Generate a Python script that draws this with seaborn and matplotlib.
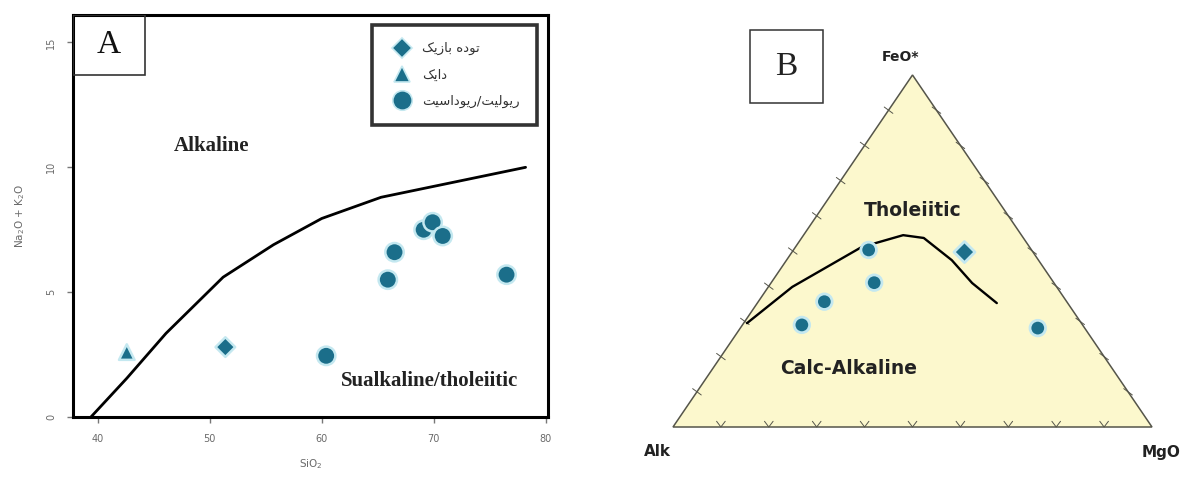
import numpy as np
import pandas as pd
import matplotlib
matplotlib.use("Agg")
import matplotlib.pyplot as plt
from matplotlib.lines import Line2D
from matplotlib.patches import Rectangle, Polygon
import seaborn as sns

# ---------------- data: panel A (TAS, Irvine & Baragar) ----------------
rock_basic = "توده بازیک"
rock_dike = "دایک"
rock_rhyo = "ریولیت/ریوداسیت"
legend_order = [rock_basic, rock_dike, rock_rhyo]

a_rock = [rock_dike, rock_basic, rock_rhyo, rock_rhyo, rock_rhyo, rock_rhyo, rock_rhyo, rock_rhyo, rock_rhyo]
a_sio2 = [42.6, 51.4, 60.4, 65.9, 66.5, 69.1, 69.9, 70.8, 76.5]
a_alk = [2.6, 2.8, 2.45, 5.5, 6.6, 7.5, 7.8, 7.25, 5.7]

div_sio2 = [39.4, 42.6, 46.1, 51.2, 55.7, 60.0, 65.3, 78.2]
div_alk = [0.0, 1.55, 3.35, 5.6, 6.9, 7.95, 8.8, 10.0]

a_xticks = [40, 50, 60, 70, 80]
a_yticks = [0, 5, 10, 15]

# ---------------- data: panel B (AFM ternary) ----------------
b_rock = [rock_rhyo, rock_rhyo, rock_rhyo, rock_rhyo, rock_basic, rock_rhyo]
b_alk = [58.6, 50.6, 34.0, 37.5, 14.3, 9.8]
b_feo = [29.0, 35.6, 50.3, 41.0, 49.7, 28.1]
b_mgo = [12.4, 13.8, 15.7, 21.5, 36.0, 62.1]

cur_alk = [69.8, 55.2, 35.1, 24.7, 20.8, 18.1, 17.1, 14.8]
cur_feo = [29.5, 39.8, 51.1, 54.5, 53.7, 47.4, 40.9, 35.2]
cur_mgo = [0.7, 5.0, 13.8, 20.8, 25.5, 34.5, 42.0, 50.0]

# ---------------- minimal Arabic-script shaping for matplotlib ----------------
FORMS = {
    'ا': ('\uFE8D', '\uFE8E', None, None),
    'ب': ('\uFE8F', '\uFE90', '\uFE91', '\uFE92'),
    'ت': ('\uFE95', '\uFE96', '\uFE97', '\uFE98'),
    'د': ('\uFEA9', '\uFEAA', None, None),
    'ر': ('\uFEAD', '\uFEAE', None, None),
    'ز': ('\uFEAF', '\uFEB0', None, None),
    'س': ('\uFEB1', '\uFEB2', '\uFEB3', '\uFEB4'),
    'ل': ('\uFEDD', '\uFEDE', '\uFEDF', '\uFEE0'),
    'ه': ('\uFEE9', '\uFEEA', '\uFEEB', '\uFEEC'),
    'و': ('\uFEED', '\uFEEE', None, None),
    'ی': ('\uFBFC', '\uFBFD', '\uFBFE', '\uFBFF'),
    'ک': ('\uFB8E', '\uFB8F', '\uFB90', '\uFB91'),
}


def shape(s):
    out = []
    for i, ch in enumerate(s):
        if ch not in FORMS:
            out.append(ch)
            continue
        iso, fin, ini, med = FORMS[ch]
        prev = s[i - 1] if i > 0 else None
        nxt = s[i + 1] if i + 1 < len(s) else None
        jp = prev in FORMS and FORMS[prev][2] is not None
        jn = ini is not None and nxt in FORMS
        if jp and jn:
            out.append(med)
        elif jp:
            out.append(fin)
        elif jn:
            out.append(ini)
        else:
            out.append(iso)
    return ''.join(reversed(out))


# ---------------- style ----------------
sns.set_style("white")
plt.rcParams['font.family'] = ['DejaVu Sans']
TEAL = '#1b6e8a'
HALO = '#c4e8f0'
markers = {rock_basic: 'D', rock_dike: '^', rock_rhyo: 'o'}
sizesA = {rock_basic: 100, rock_dike: 125, rock_rhyo: 175}
sizesB = {rock_basic: 115, rock_dike: 90, rock_rhyo: 125}

W, H = 1183, 479
fig = plt.figure(figsize=(W / 100, H / 100), dpi=100)


def fx(px):
    return px / W


def fy(py):
    return 1 - py / H


# ================= Panel A =================
axL, axR, axT, axB = 73, 548, 15, 417
ax1 = fig.add_axes([fx(axL), fy(axB), (axR - axL) / W, (axB - axT) / H])

dfA = pd.DataFrame({'SiO2': a_sio2, 'alk': a_alk, 'rock': a_rock})
dfDiv = pd.DataFrame({'SiO2': div_sio2, 'alk': div_alk})

sns.lineplot(data=dfDiv, x='SiO2', y='alk', sort=False, estimator=None,
             color='black', linewidth=2.0, ax=ax1)
sns.scatterplot(data=dfA, x='SiO2', y='alk', style='rock', markers=markers,
                size='rock', sizes=sizesA,
                color=TEAL, edgecolor=HALO, linewidth=1.8,
                legend=False, ax=ax1, zorder=5)

ax1.set_xlim(37.8, 80.2)
ax1.set_ylim(0, 16.1)
ax1.set_xticks(a_xticks)
ax1.set_yticks(a_yticks)
ax1.set_xticklabels([str(t) for t in a_xticks])
ax1.set_yticklabels([str(t) for t in a_yticks], rotation=90, va='center')
ax1.tick_params(axis='both', which='major', direction='out', length=4, width=1,
                color='#777777', labelcolor='#6a6a6a', labelsize=7, pad=8,
                bottom=True, left=True)
ax1.set_xlabel('SiO$_2$', fontsize=7.5, color='#6a6a6a', labelpad=10)
ax1.set_ylabel('Na$_2$O + K$_2$O', fontsize=7.5, color='#6a6a6a', labelpad=14)
for sp in ax1.spines.values():
    sp.set_visible(True)
    sp.set_color('black')
    sp.set_linewidth(2.2)

# "A" label box
ax1.add_patch(Rectangle((0, 1 - 60 / (axB - axT)), (145 - axL) / (axR - axL), 60 / (axB - axT),
                        transform=ax1.transAxes, fill=False, edgecolor='#333333',
                        linewidth=1.2, zorder=6))
ax1.text((109 - axL) / (axR - axL), 1 - 30 / (axB - axT), 'A', transform=ax1.transAxes,
         ha='center', va='center', fontsize=24, family='Liberation Serif', color='#111111')

ax1.text(50.2, 10.85, 'Alkaline', ha='center', va='center', fontsize=15,
         family='Liberation Serif', fontweight='bold', color='#222222')
ax1.text(69.6, 1.45, 'Sualkaline/tholeiitic', ha='center', va='center', fontsize=15,
         family='Liberation Serif', fontweight='bold', color='#222222')

handles = [Line2D([], [], linestyle='none', marker=markers[r], color=TEAL,
                  markeredgecolor=HALO, markeredgewidth=1.2,
                  markersize={'o': 14, 'D': 10, '^': 11}[markers[r]]) for r in legend_order]
lx0 = (372 - axL) / (axR - axL)
lx1 = (537 - axL) / (axR - axL)
ly1 = 1 - (25 - axT) / (axB - axT)
leg = ax1.legend(handles, [shape(r) for r in legend_order], loc='upper left',
                 bbox_to_anchor=(lx0, ly1 - 0.25, lx1 - lx0, 0.25), mode='expand',
                 frameon=True, fancybox=False, handletextpad=0.5,
                 labelspacing=1.0, borderpad=1.3, borderaxespad=0, handlelength=2.0,
                 prop={'family': ['DejaVu Sans'], 'size': 9.5})
leg.get_frame().set_edgecolor('black')
leg.get_frame().set_linewidth(2.6)
for t in leg.get_texts():
    t.set_color('#333333')

# ================= Panel B (ternary AFM) =================
ax2 = fig.add_axes([fx(640), 0, (W - 640) / W, 1])
ax2.set_xlim((640 - 673) / 479, (W - 673) / 479)
ax2.set_ylim((427 - 479) / 352, 427 / 352)
ax2.axis('off')


def tern(alk, feo, mgo):
    alk, feo, mgo = (np.asarray(v, float) for v in (alk, feo, mgo))
    tot = alk + feo + mgo
    v = feo / tot
    u = mgo / tot + 0.5 * v
    return u, v


tri = Polygon([[0, 0], [1, 0], [0.5, 1]], closed=True, facecolor='#fcf8cd',
              edgecolor='#55554a', linewidth=1.1, zorder=1)
ax2.add_patch(tri)

# edge ticks (every 10 %)
fracs = np.arange(1, 10) / 10
dl = 0.018
edges = [((0, 0), (1, 0)), ((1, 0), (0.5, 1)), ((0.5, 1), (0, 0))]
for (x0, y0), (x1, y1) in edges:
    for f in fracs:
        px, py = x0 + f * (x1 - x0), y0 + f * (y1 - y0)
        ax2.plot([px - dl * 0.5, px, px + dl * 0.5], [py + dl * 0.9, py, py + dl * 0.9]
                 if y0 == y1 else [py + dl * 0.5, py, py - dl * 0.5],
                 color='#55554a', linewidth=0.7, zorder=2)

cu, cv = tern(cur_alk, cur_feo, cur_mgo)
sns.lineplot(x=cu, y=cv, sort=False, estimator=None, color='black',
             linewidth=1.7, ax=ax2, zorder=3)

bu, bv = tern(b_alk, b_feo, b_mgo)
dfB = pd.DataFrame({'u': bu, 'v': bv, 'rock': b_rock})
sns.scatterplot(data=dfB, x='u', y='v', style='rock', markers=markers,
                size='rock', sizes=sizesB,
                color=TEAL, edgecolor=HALO, linewidth=2.0,
                legend=False, ax=ax2, zorder=5)
ax2.set_xlabel('')
ax2.set_ylabel('')


def pt(px, py):
    return (px - 673) / 479, (427 - py) / 352


lab = dict(family='DejaVu Sans', fontweight='bold', color='#222222')
ax2.text(*pt(900, 57), 'FeO*', ha='center', va='center', fontsize=10, **lab)
ax2.text(*pt(657, 452), 'Alk', ha='center', va='center', fontsize=11, **lab)
ax2.text(*pt(1161, 452), 'MgO', ha='center', va='center', fontsize=11, **lab)
ax2.text(*pt(913, 210), 'Tholeiitic', ha='center', va='center', fontsize=13.5, **lab)
ax2.text(*pt(849, 368), 'Calc-Alkaline', ha='center', va='center', fontsize=13.5, **lab)

bx0, by0 = pt(750, 103)
bx1, by1 = pt(823, 30)
ax2.add_patch(Rectangle((bx0, by0), bx1 - bx0, by1 - by0, fill=False,
                        edgecolor='#333333', linewidth=1.1))
ax2.text(*pt(786.5, 67), 'B', ha='center', va='center', fontsize=24,
         family='Liberation Serif', color='#222222')

fig.savefig('out.png', dpi=100)
